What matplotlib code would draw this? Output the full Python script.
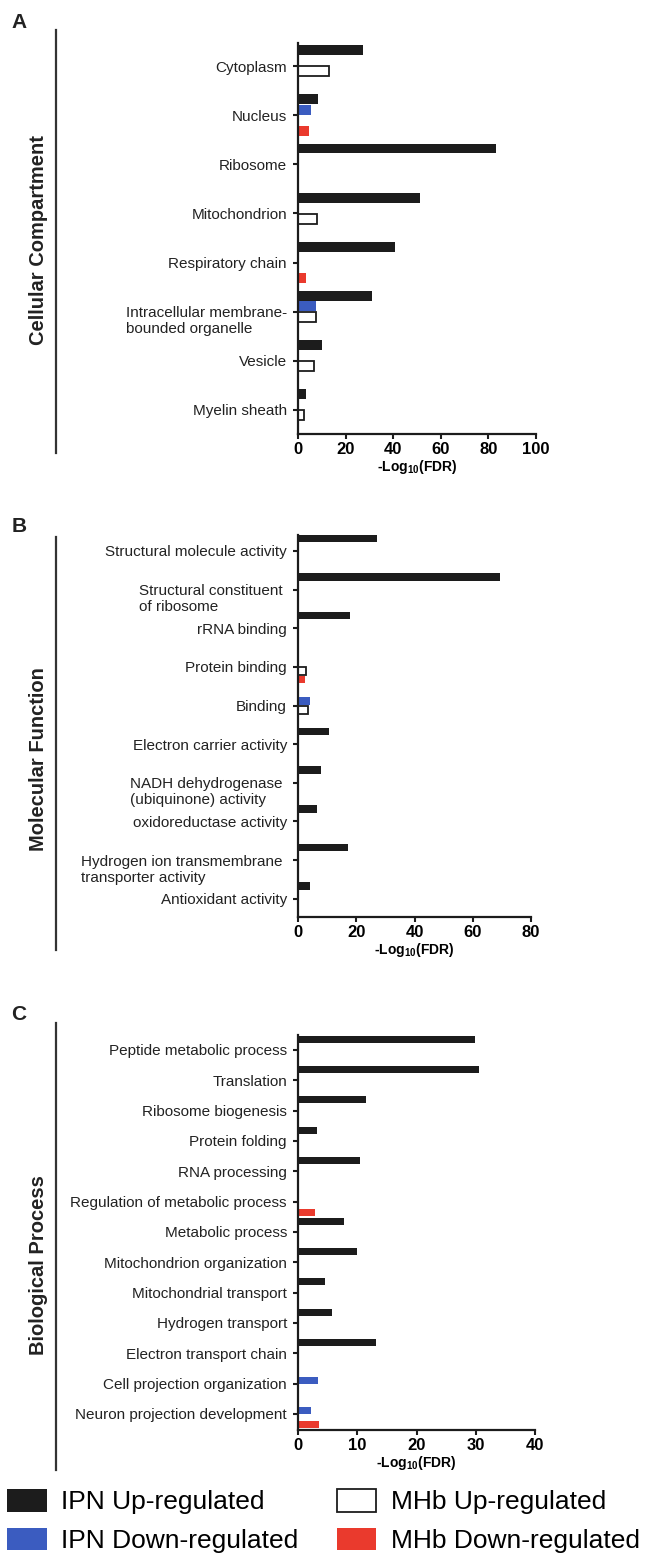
import matplotlib
matplotlib.use("Agg")
import matplotlib.pyplot as plt
import matplotlib.transforms as mtransforms
from matplotlib.lines import Line2D
import numpy as np

plt.rcParams['font.family'] = ['Liberation Sans', 'DejaVu Sans']
plt.rcParams['mathtext.fontset'] = 'custom'
plt.rcParams['mathtext.rm'] = 'Liberation Sans'
plt.rcParams['mathtext.bf'] = 'Liberation Sans:bold'
plt.rcParams['mathtext.default'] = 'bf'

nan = np.nan

# A - Cellular Compartment
cc_terms = ["Cytoplasm", "Nucleus", "Ribosome", "Mitochondrion", "Respiratory chain",
            "Intracellular membrane-\nbounded organelle", "Vesicle", "Myelin sheath"]
cc_ipn_up = [27.3, 8.5, 83.0, 51.2, 40.9, 31.3, 9.9, 3.5]
cc_ipn_down = [nan, 5.5, nan, nan, nan, 7.5, nan, nan]
cc_mhb_up = [12.9, nan, nan, 8.0, nan, 7.7, 6.9, 2.4]
cc_mhb_down = [nan, 4.6, nan, nan, 3.3, nan, nan, nan]

# B - Molecular Function
mf_terms = ["Structural molecule activity", "Structural constituent \nof ribosome",
            "rRNA binding", "Protein binding", "Binding", "Electron carrier activity",
            "NADH dehydrogenase \n(ubiquinone) activity", "oxidoreductase activity",
            "Hydrogen ion transmembrane \ntransporter activity", "Antioxidant activity"]
mf_ipn_up = [27.2, 69.2, 18.0, nan, nan, 10.6, 7.8, 6.4, 17.3, 4.1]
mf_ipn_down = [nan, nan, nan, nan, 4.0, nan, nan, nan, nan, nan]
mf_mhb_up = [nan, nan, nan, 2.9, 3.3, nan, nan, nan, nan, nan]
mf_mhb_down = [nan, nan, nan, 2.3, nan, nan, nan, nan, nan, nan]

# C - Biological Process
bp_terms = ["Peptide metabolic process", "Translation", "Ribosome biogenesis",
            "Protein folding", "RNA processing", "Regulation of metabolic process",
            "Metabolic process", "Mitochondrion organization", "Mitochondrial transport",
            "Hydrogen transport", "Electron transport chain", "Cell projection organization",
            "Neuron projection development"]
bp_ipn_up = [29.8, 30.5, 11.5, 3.2, 10.4, nan, 7.7, 10.0, 4.5, 5.8, 13.1, nan, nan]
bp_ipn_down = [nan, nan, nan, nan, nan, nan, nan, nan, nan, nan, nan, 3.4, 2.2]
bp_mhb_up = [nan] * 13
bp_mhb_down = [nan, nan, nan, nan, nan, 2.9, nan, nan, nan, nan, nan, nan, 3.5]

legend_labels = ["IPN Up-regulated", "IPN Down-regulated", "MHb Up-regulated", "MHb Down-regulated"]

BLACK = '#1c1c1c'
BLUE = '#3b5cc0'
RED = '#ea3a2d'

W, H = 645, 1557
fig = plt.figure(figsize=(W / 100, H / 100), dpi=100)


def px_axes(left, right, top, bottom):
    return fig.add_axes([left / W, 1 - bottom / H, (right - left) / W, (bottom - top) / H])


def draw_panel(ax, terms, series, xmax, step, slot, bar_h, pad_top, pad_bottom):
    y = np.arange(len(terms))
    handles = []
    styles = [(BLACK, 'none', 0), (BLUE, 'none', 0), ('white', BLACK, 1.3), (RED, 'none', 0)]
    for k, vals in enumerate(series):
        vals = np.asarray(vals, dtype=float)
        ok = ~np.isnan(vals)
        face, edge, lw = styles[k]
        b = ax.barh(y[ok] + (k - 1.5) * slot, vals[ok], height=bar_h, color=face,
                    edgecolor=edge, linewidth=lw, label=legend_labels[k])
        handles.append(b)

    ax.set_ylim(len(terms) - 1 + pad_bottom, -pad_top)
    ax.set_xlim(0, xmax)
    ax.set_xticks(np.arange(0, xmax + 1, step))
    ax.set_yticks(y)
    ax.set_yticklabels([])
    for s in ['top', 'right']:
        ax.spines[s].set_visible(False)
    for s in ['left', 'bottom']:
        ax.spines[s].set_linewidth(1.6)
        ax.spines[s].set_color(BLACK)
    ax.tick_params(axis='both', length=3.5, width=1.5, color=BLACK)
    ax.tick_params(axis='x', labelsize=12, pad=2)
    for lab in ax.get_xticklabels():
        lab.set_fontweight('bold')
    ax.set_xlabel('-Log$_{10}$(FDR)', fontsize=10, fontweight='bold', labelpad=1)

    # category labels: first line sits on the tick, extra lines hang below
    trans = mtransforms.offset_copy(ax.get_yaxis_transform(), fig=fig, x=-8, y=4, units='points')
    for yi, t in zip(y, terms):
        ax.text(0, yi, t, transform=trans, ha='right', va='top',
                multialignment='left', fontsize=11, color='#222222')
    return handles


ax_a = px_axes(298, 536, 43, 434)
handles = draw_panel(ax_a, cc_terms, [cc_ipn_up, cc_ipn_down, cc_mhb_up, cc_mhb_down],
                     100, 20, 0.215, 0.2, 0.47, 0.49)

ax_b = px_axes(298, 531, 535, 917)
draw_panel(ax_b, mf_terms, [mf_ipn_up, mf_ipn_down, mf_mhb_up, mf_mhb_down],
           80, 20, 0.217, 0.2, 0.41, 0.47)

ax_c = px_axes(298, 535, 1035, 1430)
draw_panel(ax_c, bp_terms, [bp_ipn_up, bp_ipn_down, bp_mhb_up, bp_mhb_down],
           40, 10, 0.235, 0.23, 0.49, 0.53)

# panel letters, side lines and side titles
for letter, ly in [("A", 23), ("B", 527), ("C", 1015)]:
    fig.text(19 / W, 1 - ly / H, letter, fontsize=15, fontweight='bold',
             ha='center', va='center', color='#222222')

for top, bottom in [(30, 453), (537, 950), (1023, 1470)]:
    fig.add_artist(Line2D([56 / W, 56 / W], [1 - top / H, 1 - bottom / H],
                          color='#333333', linewidth=1.6))

for title, cy in [("Cellular Compartment", 240), ("Molecular Function", 759),
                  ("Biological Process", 1265)]:
    fig.text(39 / W, 1 - cy / H, title, rotation=90, fontsize=14.5, fontweight='bold',
             ha='center', va='center', color='#222222')

fig.legend(handles=handles, labels=legend_labels, ncol=2, loc='upper left',
           bbox_to_anchor=(7 / W, 1 - 1489 / H), frameon=False, fontsize=19,
           borderpad=0, borderaxespad=0, handlelength=1.5, handleheight=0.95,
           handletextpad=0.55, columnspacing=1.45, labelspacing=0.5)

fig.savefig('out.png', dpi=100)
